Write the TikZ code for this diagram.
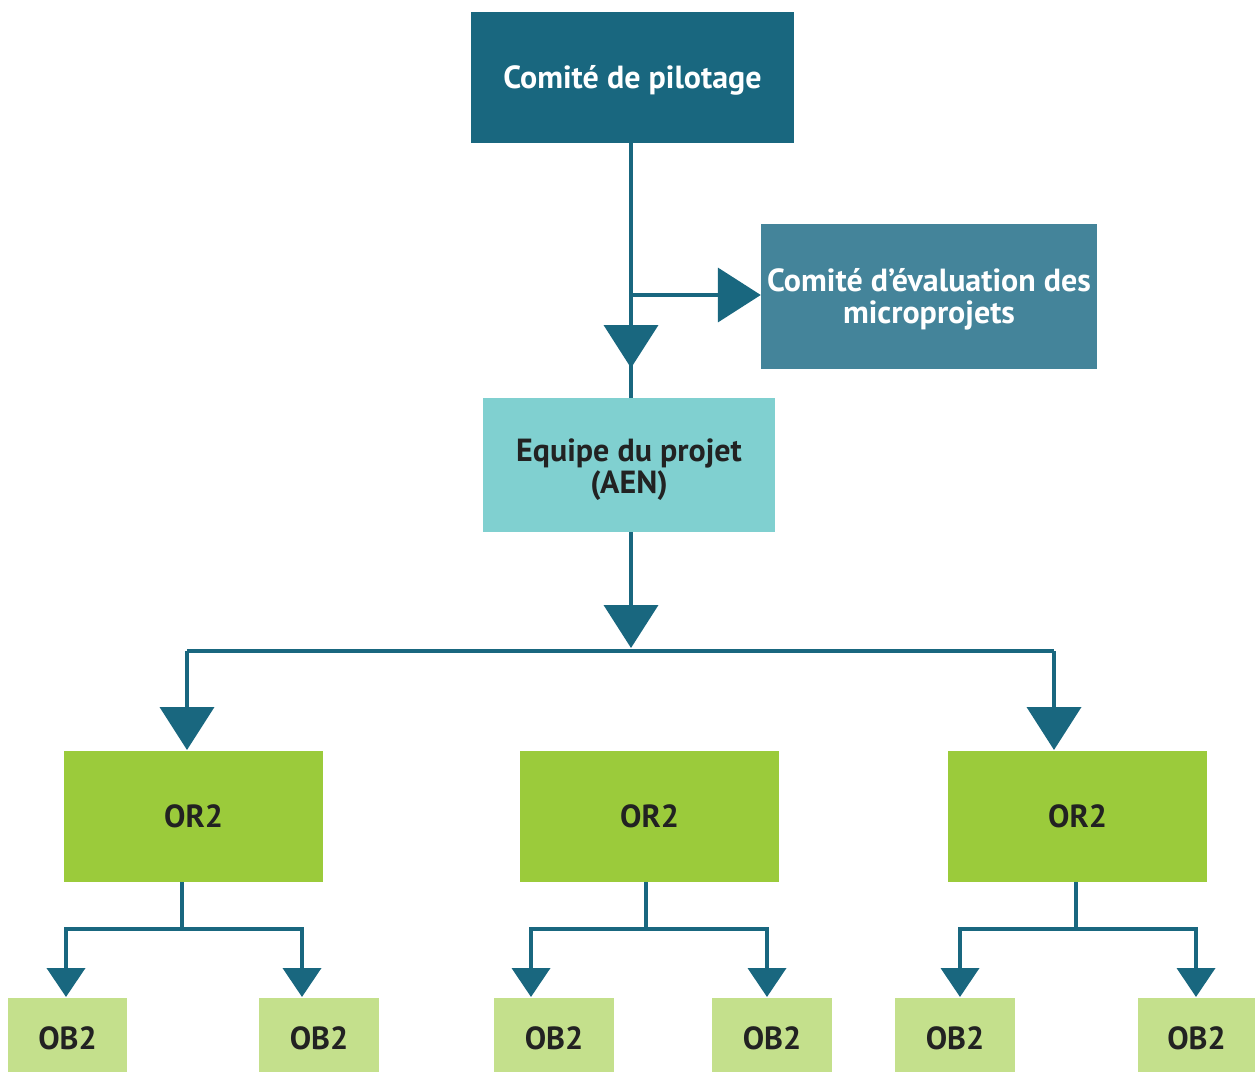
\documentclass[tikz,border=0pt]{standalone}
\usepackage{fontspec}
\setmainfont{PT Sans}
\usetikzlibrary{arrows.meta}
\definecolor{cdark}{HTML}{19677F}
\definecolor{cmid}{HTML}{44849A}
\definecolor{clight}{HTML}{80D0D0}
\definecolor{cgreen}{HTML}{9BCB3B}
\definecolor{cpale}{HTML}{C4E08C}
\definecolor{ctext}{HTML}{222222}
\begin{document}
\begin{tikzpicture}[x=1pt,y=-1pt,
  box/.style={draw=none, inner sep=0pt, align=center, text=ctext,
    font=\bfseries\fontsize{32}{32}\selectfont},
  one/.style={text height=22pt, text depth=0pt},
  obt/.style={text height=28pt, text depth=0pt},
  ln/.style={draw=cdark, line width=4pt},
  bigtip/.style={-{Triangle[width=54pt,length=43pt]}},
  smalltip/.style={-{Triangle[width=38pt,length=29pt]}}]
\useasboundingbox (0,0) rectangle (1255,1073);
% boxes
\node[box, one, fill=cdark, text=white, minimum width=323pt, minimum height=131pt] (pil) at (632.5,77.5) {Comité de pilotage};
\node[box, fill=cmid, text=white, minimum width=336pt, minimum height=145pt] (eval) at (929,296.5) {\rule{0pt}{29pt}Comité d’évaluation des\\microprojets};
\node[box, fill=clight, minimum width=292pt, minimum height=134pt] (equipe) at (629,465) {\rule{0pt}{33pt}Equipe du projet\\(AEN)};
\node[box, one, fill=cgreen, minimum width=259pt, minimum height=131pt] (or1) at (193.5,816.5) {OR2};
\node[box, one, fill=cgreen, minimum width=259pt, minimum height=131pt] (or2) at (649.5,816.5) {OR2};
\node[box, one, fill=cgreen, minimum width=259pt, minimum height=131pt] (or3) at (1077.5,816.5) {OR2};
\node[box, obt, fill=cpale, minimum width=119pt, minimum height=74pt] (ob1) at (67.5,1035) {OB2};
\node[box, obt, fill=cpale, minimum width=120pt, minimum height=74pt] (ob2) at (319,1035) {OB2};
\node[box, obt, fill=cpale, minimum width=120pt, minimum height=74pt] (ob3) at (554,1035) {OB2};
\node[box, obt, fill=cpale, minimum width=120pt, minimum height=74pt] (ob4) at (772,1035) {OB2};
\node[box, obt, fill=cpale, minimum width=120pt, minimum height=74pt] (ob5) at (955,1035) {OB2};
\node[box, obt, fill=cpale, minimum width=117pt, minimum height=74pt] (ob6) at (1196.5,1035) {OB2};
% coordinates
\coordinate (v) at (631,0);
\coordinate (j1) at (631,295);
\coordinate (d1) at (631,368);
\coordinate (d2) at (631,648);
\coordinate (busL) at (187,651);
\coordinate (busR) at (1054,651);
\coordinate (tL) at (187,750);
\coordinate (tR) at (1054,750);
% top connectors
\draw[ln] (pil.south -| v) -- (equipe.north -| v);
\draw[ln,bigtip] (j1) -- (eval.west |- j1);
\draw[ln,bigtip] (631,320) -- (d1);
\draw[ln,bigtip] (equipe.south -| v) -- (d2);
\draw[ln] (busL) -- (busR);
\draw[ln,bigtip] (busL) -- (tL);
\draw[ln,bigtip] (busR) -- (tR);
% OR -> OB
\foreach \o/\c/\l/\r in {or1/182/66/302, or2/646/531/767, or3/1076/960/1196}{
  \draw[ln] (\c,882) -- (\c,929);
  \draw[ln] (\l,929) -- (\r,929);
  \draw[ln,smalltip] (\l,927) -- (\l,997);
  \draw[ln,smalltip] (\r,927) -- (\r,997);
}
\end{tikzpicture}
\end{document}
